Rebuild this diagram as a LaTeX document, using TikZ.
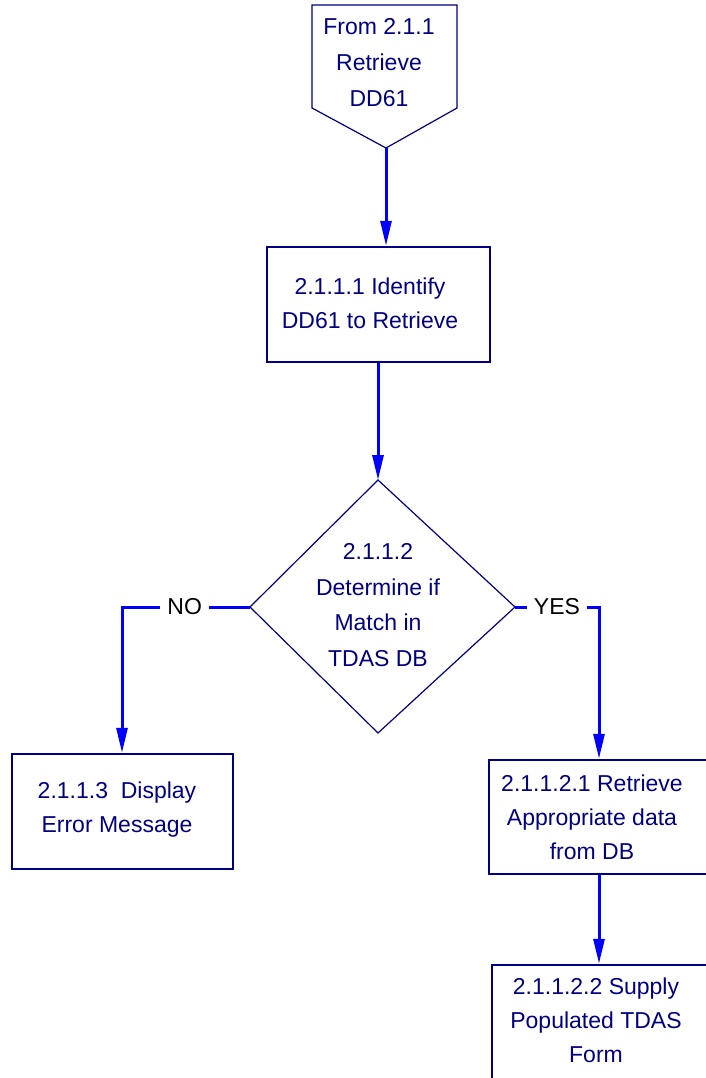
\documentclass[tikz,border=0pt]{standalone}
\usepackage{fontspec}
\setmainfont{Liberation Sans}
\usetikzlibrary{arrows.meta}
\definecolor{navy}{RGB}{0,0,128}
\definecolor{flowblue}{RGB}{0,0,255}
\tikzset{
  txt/.style={text=navy, align=center, font=\fontsize{23}{34}\selectfont, inner sep=0pt},
  widetxt/.style={txt, font=\fontsize{23}{36}\selectfont},
  procbox/.style={draw=navy, line width=2.5pt, rectangle, inner sep=0pt},
  outline/.style={draw=navy, line width=1.2pt, line join=miter},
  flow/.style={draw=flowblue, line width=3pt, -{Triangle[length=25pt,width=11pt]}},
  branch/.style={fill=white, text=black, font=\fontsize{23}{28}\selectfont, inner xsep=7pt, inner ysep=2pt}
}
\begin{document}
\begin{tikzpicture}[x=1pt, y=-1pt]
\useasboundingbox (0,0) rectangle (706,1078);
\clip (0,0) rectangle (706,1078);

% off-page connector
\coordinate (pTL) at (312,5);
\coordinate (pTR) at (457,5);
\coordinate (pR) at (457,108);
\coordinate (pTip) at (386,148);
\coordinate (pL) at (312,108);
\draw[outline] (pTL) -- (pTR) -- (pR) -- (pTip) -- (pL) -- cycle;
\node[widetxt] (from) at (379,63) {From 2.1.1\\Retrieve\\DD61};

% process boxes
\node[procbox, minimum width=223pt, minimum height=115pt] (identify) at (378.5,304.5) {};
\node[txt] (identifyTxt) at (370,303) {2.1.1.1 Identify\\DD61 to Retrieve};

\node[procbox, minimum width=221pt, minimum height=115pt] (error) at (122.5,811.5) {};
\node[txt] (errorTxt) at (117,810) {2.1.1.3\ \ Display\\Error Message};

\node[procbox, minimum width=241pt, minimum height=114pt] (retrieve) at (609.5,817) {};
\node[txt] (retrieveTxt) at (592,817) {2.1.1.2.1 Retrieve\\Appropriate data\\from DB};

\node[procbox, minimum width=238pt, minimum height=135pt] (supply) at (611,1032.5) {};
\node[txt] (supplyTxt) at (596,1020) {2.1.1.2.2 Supply\\Populated TDAS\\Form};

% decision
\coordinate (dTop) at (378,480);
\coordinate (dRight) at (515,607);
\coordinate (dBot) at (378,733);
\coordinate (dLeft) at (250,607);
\draw[outline] (dTop) -- (dRight) -- (dBot) -- (dLeft) -- cycle;
\node[txt, font=\fontsize{23}{35.5}\selectfont] (decideTxt) at (378,605) {2.1.1.2\\Determine if\\Match in\\TDAS DB};

% connectors
\draw[flow] (pTip) -- (pTip |- identify.north);
\draw[flow] (identify.south -| dTop) -- (dTop);
\draw[flow] (dLeft) -- node[branch, pos=0.51] (no) {NO} (122,607) -- (error.north -| 122,0);
\draw[flow] (dRight) -- node[branch, pos=0.5] (yes) {YES} (599,607) -- (retrieve.north -| 599,0);
\draw[flow] (retrieve.south -| 599,0) -- (supply.north -| 599,0);
\end{tikzpicture}
\end{document}
